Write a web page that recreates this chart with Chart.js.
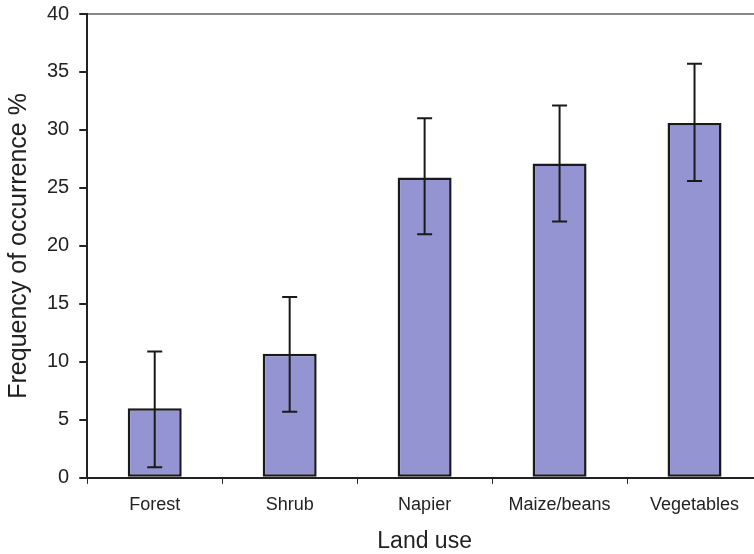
<!DOCTYPE html>
<html>
<head>
<meta charset="utf-8">
<script src="https://cdn.jsdelivr.net/npm/chart.js@4/dist/chart.umd.min.js"></script>
<style>
  html, body { margin: 0; padding: 0; background: #fff; overflow: hidden; }
  #wrap { width: 770px; height: 554px; }
</style>
</head>
<body>
<div id="wrap"><canvas id="chart" width="770" height="554"></canvas></div>
<script>
// land use categories and mean frequency (%) with +/- error
const landUse = ["Forest", "Shrub", "Napier", "Maize/beans", "Vegetables"];
const frequency = [6.0, 10.7, 25.9, 27.1, 30.6];
const errLow = [0.9, 5.7, 21.0, 22.1, 25.6];
const errHigh = [10.9, 15.6, 31.0, 32.1, 35.7];

const FONT = "'Liberation Sans', Arial, Helvetica, sans-serif";

// draws vertical error bars with caps on each bar
const errorBars = {
  id: "errorBars",
  afterDatasetsDraw(chart) {
    const ctx = chart.ctx;
    const y = chart.scales.y;
    const meta = chart.getDatasetMeta(0);
    ctx.save();
    ctx.strokeStyle = "#1a1a1a";
    ctx.lineWidth = 2;
    meta.data.forEach((bar, i) => {
      const x = bar.x;
      const top = y.getPixelForValue(errHigh[i]);
      const bot = y.getPixelForValue(errLow[i]);
      ctx.beginPath();
      ctx.moveTo(x, top); ctx.lineTo(x, bot);
      ctx.moveTo(x - 7.5, top); ctx.lineTo(x + 7.5, top);
      ctx.moveTo(x - 7.5, bot); ctx.lineTo(x + 7.5, bot);
      ctx.stroke();
    });
    ctx.restore();
  }
};

new Chart(document.getElementById("chart"), {
  type: "bar",
  data: {
    labels: landUse,
    datasets: [{
      data: frequency,
      backgroundColor: "#9494d2",
      borderColor: "#1a1a1a",
      borderWidth: 2.5,
      borderSkipped: false,
      categoryPercentage: 0.4,
      barPercentage: 1.0
    }]
  },
  options: {
    responsive: false,
    animation: false,
    layout: { padding: { top: 0, right: 8, left: 4, bottom: -1 } },
    plugins: { legend: { display: false }, tooltip: { enabled: false } },
    scales: {
      x: {
        offset: true,
        border: { color: "#222", width: 2 },
        grid: { offset: true, drawOnChartArea: false, tickLength: 6, tickColor: "#222", lineWidth: 1 },
        ticks: { color: "#222", font: { family: FONT, size: 18 }, padding: 10 },
        title: { display: true, text: "Land use", color: "#222", font: { family: FONT, size: 23 }, padding: { top: 2, bottom: 0 } }
      },
      y: {
        min: 0, max: 40,
        border: { color: "#222", width: 2 },
        grid: {
          drawOnChartArea: true,
          color: c => (c.tick && c.tick.value === 40 ? "#888" : "rgba(0,0,0,0)"),
          tickColor: "#222",
          tickLength: 8,
          lineWidth: 2
        },
        ticks: { stepSize: 5, color: "#222", font: { family: FONT, size: 20, lineHeight: 0.4 }, padding: 10 },
        title: { display: true, text: "Frequency of occurrence %", color: "#222", font: { family: FONT, size: 25 }, padding: { top: 0, bottom: 3 } }
      }
    }
  },
  plugins: [errorBars]
});
</script>
</body>
</html>
